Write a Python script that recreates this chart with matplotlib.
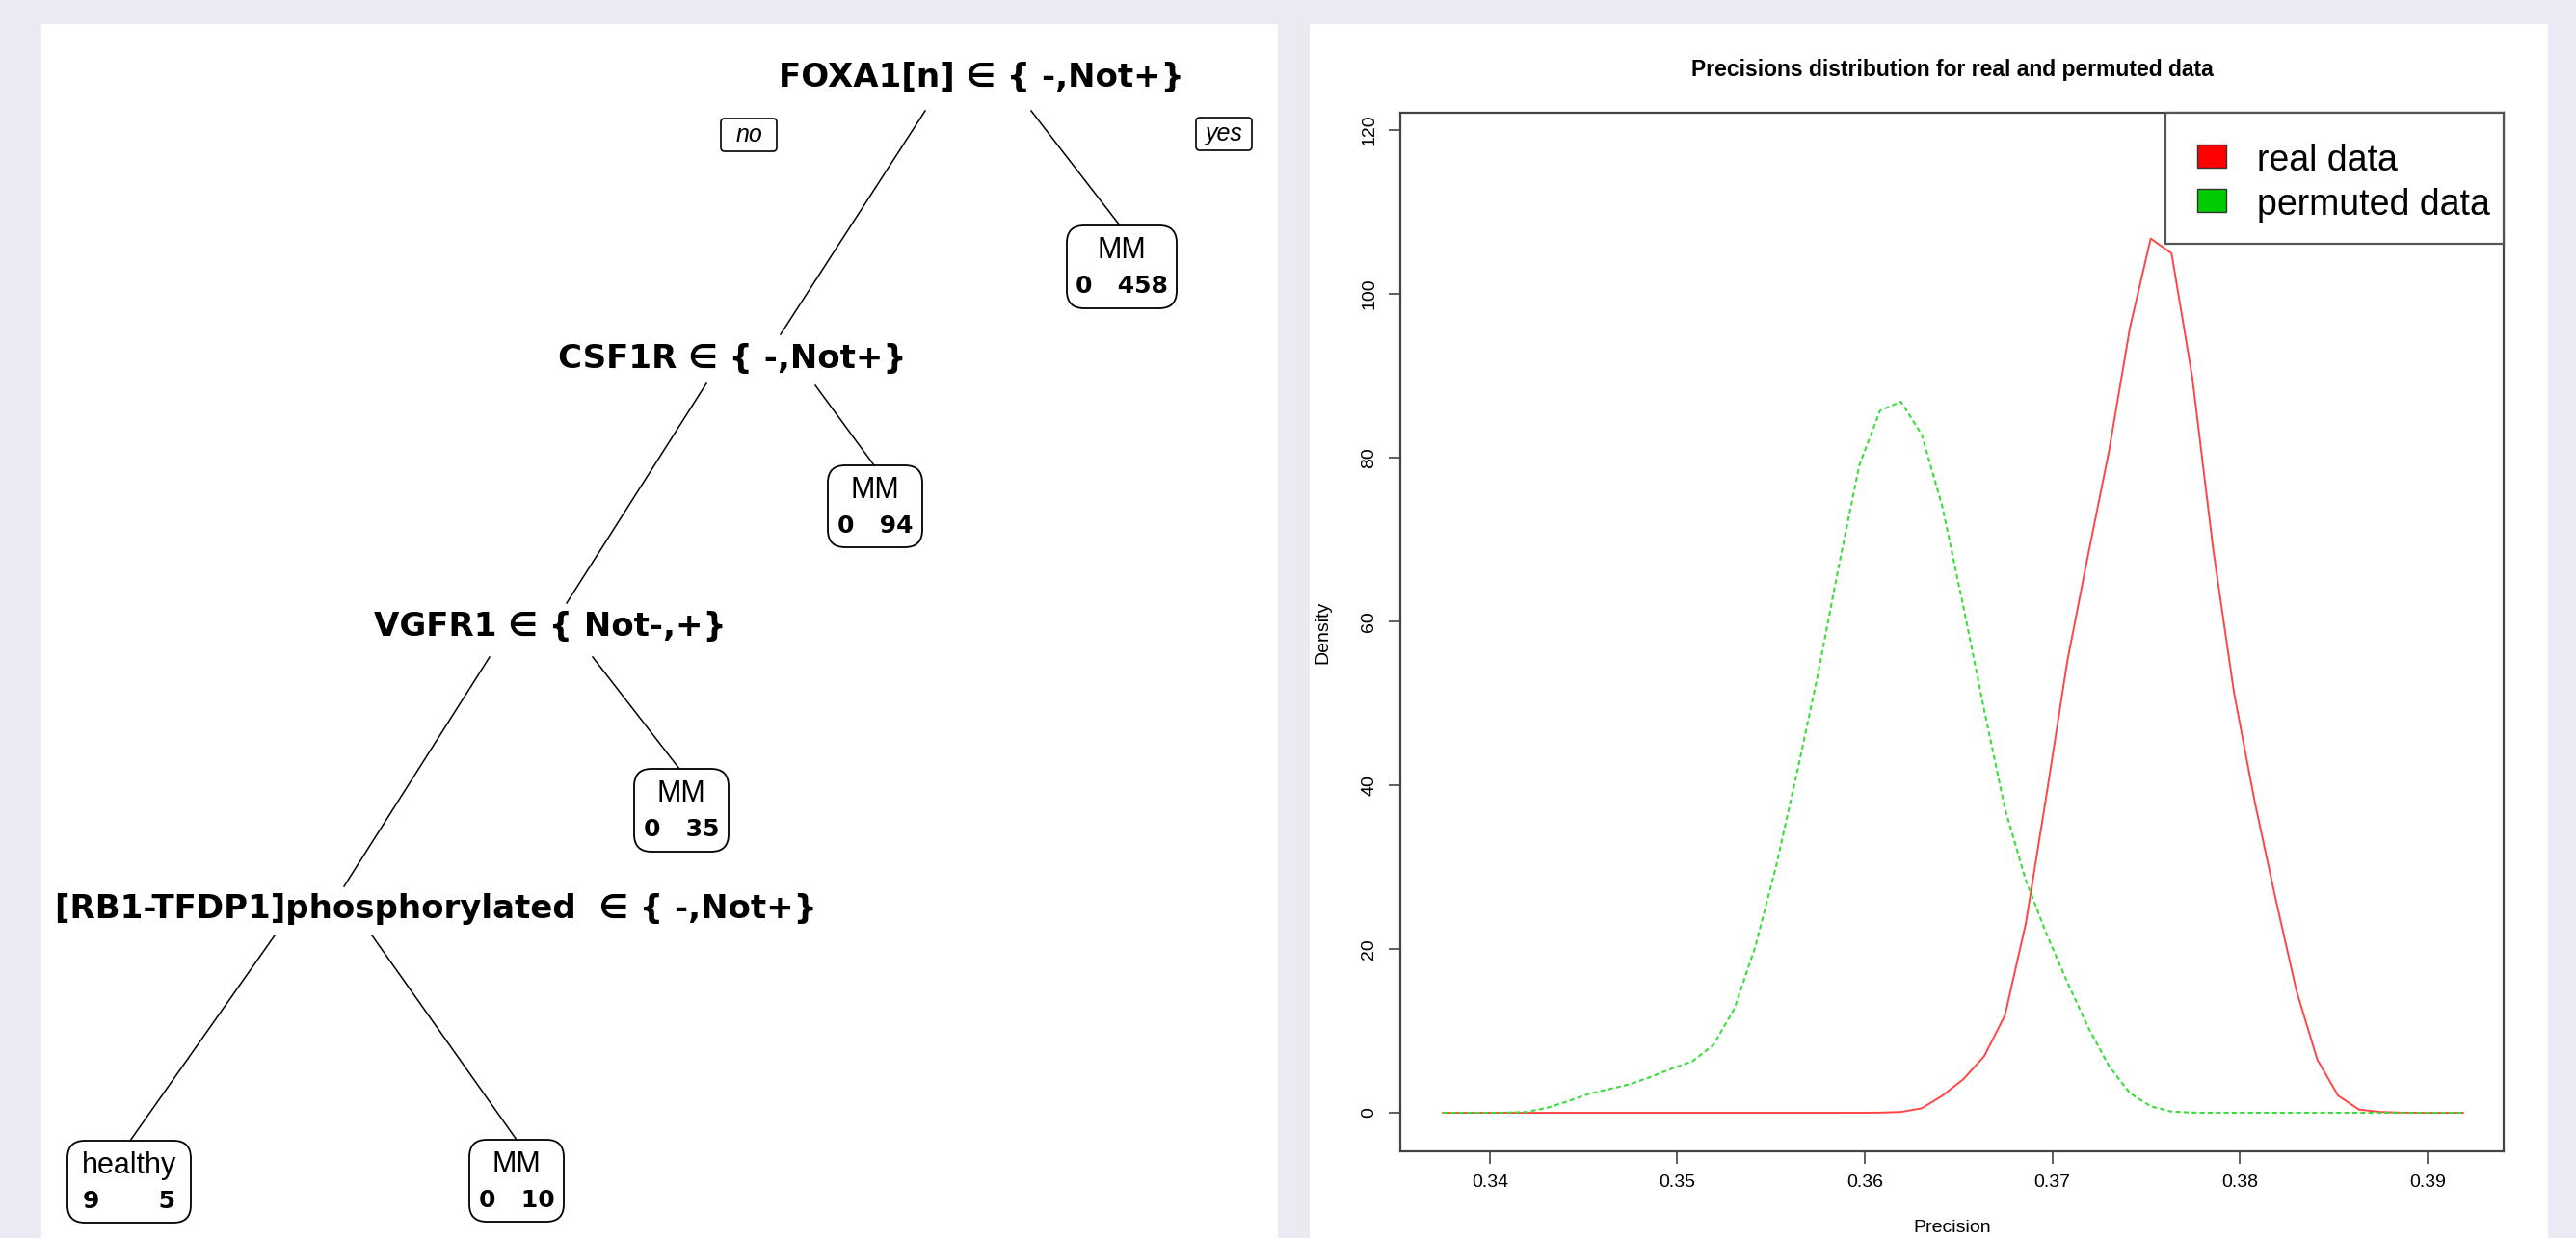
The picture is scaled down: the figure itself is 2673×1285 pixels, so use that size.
import matplotlib.pyplot as plt
from matplotlib.patches import FancyBboxPatch, Rectangle

# ---- data: decision tree (left) ----
split_labels = ["FOXA1[n] \u2208 { -,Not+}",
                "CSF1R \u2208 { -,Not+}",
                "VGFR1 \u2208 { Not-,+}",
                "[RB1-TFDP1]phosphorylated  \u2208 { -,Not+}"]
leaf_classes = ["MM", "MM", "MM", "healthy", "MM"]
leaf_healthy = [0, 0, 0, 9, 0]
leaf_mm = [458, 94, 35, 5, 10]
branch_labels = ["no", "yes"]

# ---- data: precision densities (right) ----
precision = [0.33750, 0.33861, 0.33972, 0.34083, 0.34194, 0.34305, 0.34416, 0.34527,
             0.34638, 0.34749, 0.34860, 0.34971, 0.35082, 0.35193, 0.35304, 0.35415,
             0.35526, 0.35637, 0.35748, 0.35859, 0.35970, 0.36081, 0.36192, 0.36303,
             0.36414, 0.36525, 0.36636, 0.36747, 0.36858, 0.36969, 0.37080, 0.37191,
             0.37302, 0.37413, 0.37524, 0.37635, 0.37746, 0.37857, 0.37968, 0.38079,
             0.38190, 0.38301, 0.38412, 0.38523, 0.38634, 0.38745, 0.38856, 0.38967,
             0.39078, 0.39189]
real_density = [0, 0, 0, 0, 0, 0, 0, 0, 0, 0,
                0, 0, 0, 0, 0, 0, 0, 0, 0, 0,
                0, 0.02, 0.1, 0.55, 2.1, 4.1, 6.9, 11.9, 23.1, 38.9,
                55.2, 68.2, 80.8, 95.8, 106.7, 104.9, 89.7, 68.8, 51.3, 37.9,
                26.1, 14.9, 6.5, 2.1, 0.4, 0.1, 0.02, 0, 0, 0]
perm_density = [0, 0, 0, 0.02, 0.1, 0.6, 1.4, 2.3, 2.9, 3.5,
                4.4, 5.4, 6.3, 8.3, 12.7, 20.2, 30.0, 41.4, 53.3, 66.5,
                79.0, 85.7, 86.8, 82.8, 73.9, 61.8, 49.2, 37.1, 28.4, 21.8,
                15.9, 10.4, 5.7, 2.4, 0.8, 0.15, 0.02, 0, 0, 0,
                0, 0, 0, 0, 0, 0, 0, 0, 0, 0]
series_names = ["real data", "permuted data"]
legend_fill = ['#ff0000', '#00cd00']
xticks = [0.34, 0.35, 0.36, 0.37, 0.38, 0.39]
yticks = [0, 20, 40, 60, 80, 100, 120]

W, H = 2673, 1285
BG = '#eaeaf2'
fig = plt.figure(figsize=(W / 100, H / 100), dpi=100, facecolor=BG)

# ---------------- left panel: tree (pixel layout) ----------------
ax_t = fig.add_axes([43 / W, 0, (1326 - 43) / W, (H - 25) / H])
ax_t.set_xlim(43, 1326)
ax_t.set_ylim(H, 25)
ax_t.set_facecolor('white')
ax_t.set_xticks([])
ax_t.set_yticks([])
for s in ax_t.spines.values():
    s.set_visible(False)

split_pos = [(1018, 80), (760, 372), (571, 651), (452, 943)]
leaf_box = [(1107, 234, 114, 86), (859, 483, 98, 85), (658, 798, 98, 86),
            (70, 1184, 128, 85), (487, 1183, 98, 85)]
leaf_gap = [3, 3, 3, 7, 3]
edges = [((960, 115), (810, 347)), ((1070, 115), (1162, 234)),
         ((733, 398), (588, 626)), ((846, 400), (907, 483)),
         ((508, 682), (357, 920)), ((615, 682), (705, 798)),
         ((285, 971), (135, 1184)), ((386, 971), (536, 1183))]
branch_pos = [(748, 123), (1241, 122)]

for (p0, p1) in edges:
    ax_t.plot([p0[0], p1[0]], [p0[1], p1[1]], color='black', lw=1.1)

for lab, (cx, cy) in zip(split_labels, split_pos):
    ax_t.text(cx, cy, lab, ha='center', va='center', fontsize=24.5,
              fontweight='bold', family=['DejaVu Sans'])

for lab, (x0, y0) in zip(branch_labels, branch_pos):
    ax_t.add_patch(FancyBboxPatch((x0, y0), 58, 34, boxstyle='round,pad=0,rounding_size=4',
                                  fc='white', ec='black', lw=1.2))
    ax_t.text(x0 + 29, y0 + 17, lab, ha='center', va='center', fontsize=18,
              style='italic', family=['Liberation Sans'])

for cls, nh, nm, gap, (x0, y0, w, h) in zip(leaf_classes, leaf_healthy, leaf_mm,
                                           leaf_gap, leaf_box):
    ax_t.add_patch(FancyBboxPatch((x0, y0), w, h, boxstyle='round,pad=0,rounding_size=18',
                                  fc='white', ec='black', lw=1.3))
    ax_t.text(x0 + w / 2, y0 + 26, cls, ha='center', va='center', fontsize=22,
              family=['Liberation Sans'])
    ax_t.text(x0 + w / 2, y0 + 63, f"{nh}{' ' * gap}{nm}", ha='center', va='center',
              fontsize=18, fontweight='bold', family=['DejaVu Sans'])

# ---------------- right panel: densities ----------------
fig.add_artist(Rectangle((1359 / W, 0), (2644 - 1359) / W, (H - 25) / H,
                         transform=fig.transFigure, facecolor='white', edgecolor='none', zorder=-1))

ax = fig.add_axes([1453 / W, (H - 1195) / H, (2598 - 1453) / W, (1195 - 117) / H])
ax.plot(precision, real_density, color='#ff4545', lw=1.4)
ax.plot(precision, perm_density, color='#3ddc3d', lw=1.5, ls=(0, (2.4, 1.6)))
ax.set_xlim(0.33523, 0.39406)
ax.set_ylim(-4.7, 122.06)
ax.set_xticks(xticks)
ax.set_xticklabels([f"{t:.2f}" for t in xticks])
ax.set_yticks(yticks)
ax.set_yticklabels([str(t) for t in yticks], rotation=90, va='center')
ax.tick_params(length=9, width=1.1, color='#333333', labelsize=14, pad=8)
for s in ax.spines.values():
    s.set_color('#444444')
    s.set_linewidth(1.6)
for lab in ax.get_xticklabels() + ax.get_yticklabels():
    lab.set_family('Liberation Sans')
ax.set_xlabel('Precision', fontsize=14, family='Liberation Sans', labelpad=22)
ax.set_ylabel('Density', fontsize=14, family='Liberation Sans', labelpad=22)

fig.text(2026 / W, 1 - 72 / H, 'Precisions distribution for real and permuted data',
         ha='center', va='center', fontsize=16.5, fontweight='bold', family='Liberation Sans')

# legend box, drawn in figure pixels like R's legend()
def px(x, y):
    return x / W, 1 - y / H

fig.add_artist(Rectangle(px(2247, 253), (2598 - 2247) / W, (253 - 117) / H,
                         transform=fig.transFigure, facecolor='white', edgecolor='#555555',
                         lw=1.6, zorder=5))
for k, (name, col) in enumerate(zip(series_names, legend_fill)):
    cy = 162 + 46 * k
    fig.add_artist(Rectangle(px(2280, cy + 12), 30 / W, 24 / H, transform=fig.transFigure,
                             facecolor=col, edgecolor='#333333', lw=1.0, zorder=6))
    fig.text(*px(2342, cy + 5), name, ha='left', va='center', fontsize=27,
             family='Liberation Sans', zorder=6)

fig.savefig('out.png', dpi=100, facecolor=BG)
